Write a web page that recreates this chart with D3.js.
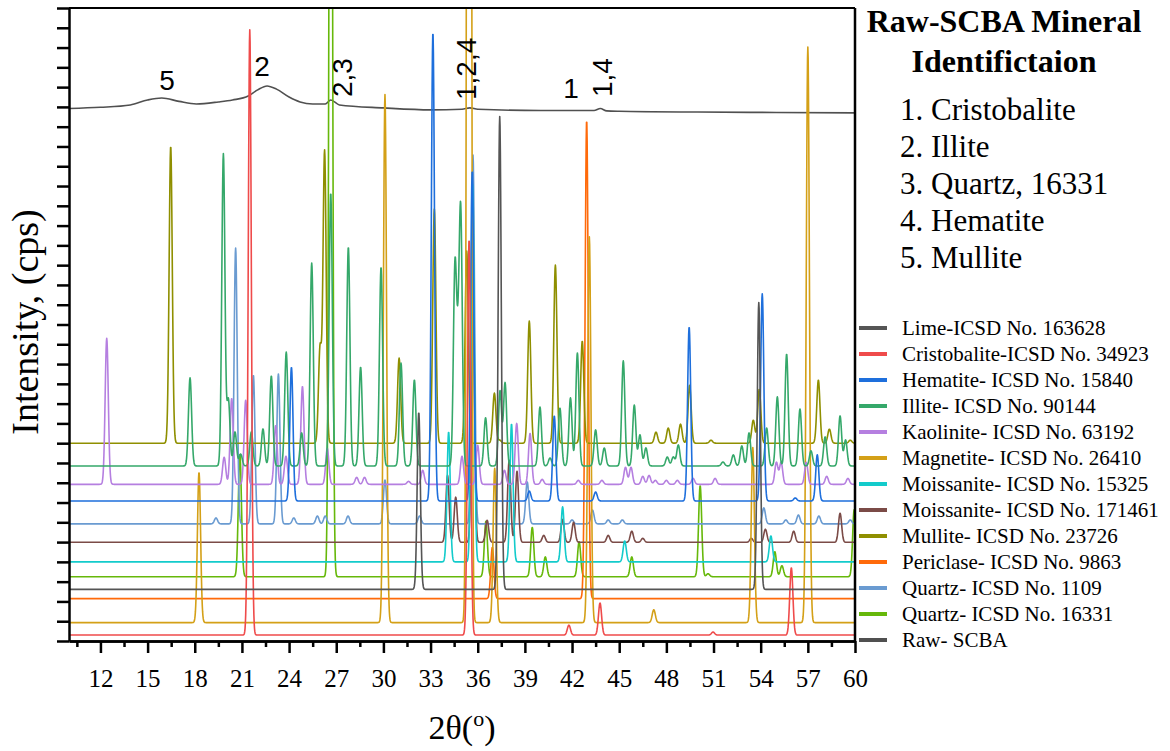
<!DOCTYPE html>
<html>
<head>
<meta charset="utf-8">
<script src="https://cdn.jsdelivr.net/npm/d3@7/dist/d3.min.js"></script>
<style>
  body { margin: 0; background: #fff; }
  text { font-family: "Liberation Serif", "Times New Roman", serif; }
  .axis path, .axis line { stroke: #000; stroke-width: 2.5; }
  .axis text { font-size: 25px; fill: #000; }
  .pattern { fill: none; stroke-width: 1.6; stroke-linejoin: round; }
  .note { font-family: "Liberation Sans", Arial, sans-serif; font-size: 28px; }
</style>
</head>
<body>
<div id="chart"></div>
<script>
// ---- data (2theta in degrees, intensity in tick units) ----
var legendNames = ['Lime-ICSD No. 163628', 'Cristobalite-ICSD No. 34923', 'Hematite- ICSD No. 15840',
  'Illite- ICSD No. 90144', 'Kaolinite- ICSD No. 63192', 'Magnetite- ICSD No. 26410',
  'Moissanite- ICSD No. 15325', 'Moissanite- ICSD No. 171461', 'Mullite- ICSD No. 23726',
  'Periclase- ICSD No. 9863', 'Quartz- ICSD No. 1109', 'Quartz- ICSD No. 16331', 'Raw- SCBA'];

// vertical offset of each reference pattern (same order as legend, raw excluded)
var offsets = [2.61, 0.30, 7.08, 8.85, 7.92, 0.93, 4.0, 4.99, 10.0, 2.14, 5.92, 3.25];

var limePeaks = [[32.25, 8.95], [37.4, 23.9], [53.88, 14.5]];
var cristobalitePeaks = [[21.5, 30.6], [35.45, 20], [41.8, 0.5], [43.78, 1.62], [50.97, 0.15], [55.95, 3.4]];
var hematitePeaks = [[24.15, 6.77], [33.15, 23.7], [35.65, 16.7], [39.28, 0.5], [40.87, 4.3], [43.5, 0.45],
  [49.45, 8.8], [54.1, 10.47], [56.2, 0.15], [57.6, 2.33]];
var illitePeaks = [[17.7, 4.45], [19.82, 15.77], [20.14, 3.34], [20.56, 1.72], [20.92, 0.6], [21.6, 1.72],
  [22.34, 1.87], [22.87, 4.55], [23.82, 5.76], [24.8, 1.67], [25.44, 10.26], [26.65, 13.8], [27.77, 11.07],
  [28.55, 5.0], [29.85, 10.06], [31.12, 5.2], [31.97, 4.35], [34.55, 9.76], [34.74, 4.2], [34.92, 12.44],
  [36.5, 2.43], [37.42, 3.79], [37.74, 4.2], [39.96, 2.98], [40.6, 0.4], [41.23, 2.93], [41.9, 3.44],
  [42.34, 5.71], [43.5, 1.82], [44.05, 0.91], [45.26, 5.31], [45.96, 3.08], [46.32, 1.57], [46.7, 0.91],
  [48.06, 0.45], [48.44, 0.45], [48.76, 1.06], [51.6, 0.2], [52.26, 0.56], [52.8, 1.01], [53.26, 1.67],
  [54.38, 1.92], [55.06, 3.49], [55.65, 5.66], [56.5, 2.88], [57.2, 0.76], [58.1, 1.47], [59.05, 2.53], [59.4, 1.31]];
var kaolinitePeaks = [[12.4, 7.38], [19.87, 1.37], [20.35, 4.35], [21.24, 4.25], [23.15, 2.98], [23.8, 1.42],
  [24.85, 4.95], [26.43, 1.82], [28.3, 0.35], [28.8, 0.35], [31.6, 0.15], [32.5, 0.71], [35.0, 1.42],
  [36.0, 1.97], [37.7, 0.71], [38.48, 3.08], [39.33, 2.58], [40.1, 0.25], [42.4, 0.2], [43.9, 0.2],
  [45.4, 0.86], [45.75, 0.86], [46.5, 0.4], [46.9, 0.45], [47.3, 0.2], [48.0, 0.2], [48.7, 0.2], [49.7, 0.3],
  [51.1, 0.3], [55.0, 1.11], [55.3, 1.11], [56.9, 1.11], [58.2, 0.4], [59.55, 0.3]];
var magnetitePeaks = [[18.27, 7.6], [30.1, 26.7], [35.45, 150], [37.08, 7.8], [43.1, 19.5], [47.2, 0.65],
  [53.5, 8.85], [57.0, 29.1]];
var moissanite15325Peaks = [[34.15, 6.57], [35.68, 19.06], [38.15, 6.98], [41.4, 2.78], [45.35, 1.06], [54.65, 1.31]];
var moissanite171461Peaks = [[34.08, 3.39], [34.6, 2.28], [35.7, 11.6], [36.6, 1.11], [38.0, 4.15], [38.5, 3.59],
  [40.2, 0.35], [41.4, 1.16], [42.1, 1.01], [44.3, 0.35], [45.8, 0.56], [46.5, 0.2], [53.4, 0.2], [54.3, 0.66],
  [56.1, 0.56], [59.05, 1.47]];
var mullitePeaks = [[16.47, 15.02], [25.97, 4.8], [26.26, 14.76], [31.0, 4.3], [33.24, 11.83], [35.3, 9.71],
  [37.06, 2.53], [37.4, 0.15], [39.28, 6.17], [40.94, 9.0], [42.65, 5.16], [47.34, 0.56], [48.12, 0.76],
  [48.9, 0.96], [49.48, 2.93], [50.84, 0.15], [53.53, 1.16], [53.91, 2.73], [57.67, 3.19], [58.37, 0.71], [59.7, 0.15]];
var periclasePeaks = [[36.93, 2.6], [42.93, 24.2]];
var quartz1109Peaks = [[19.35, 0.3], [20.6, 13.95], [21.73, 7.53], [23.32, 7.58], [24.3, 0.3], [25.8, 0.4],
  [26.3, 0.4], [27.75, 0.4], [30.1, 2.22], [32.3, 0.4], [35.7, 18.65], [39.15, 2.12], [42.0, 0.2], [43.3, 0.7],
  [44.3, 0.2], [45.2, 0.2], [54.2, 0.81], [55.6, 0.2], [56.4, 0.45], [57.7, 0.4], [59.7, 0.2]];
var quartz16331Peaks = [[20.87, 6.2], [26.65, 60], [36.52, 2.8], [39.47, 2.5], [40.3, 1.0], [42.45, 1.77],
  [45.8, 1.0], [50.15, 4.6], [50.65, 0.15], [54.9, 1.26], [55.35, 0.56], [59.95, 3.4]];

var rawScba = [[10, 26.92], [12, 26.98], [13.9, 27.1], [15, 27.35], [15.9, 27.45], [17, 27.28], [18.1, 27.15],
  [19.5, 27.25], [20.4, 27.35], [21.4, 27.55], [22, 27.86], [22.6, 28.06], [23.2, 27.9], [24, 27.5],
  [24.7, 27.25], [25.5, 27.15], [26.3, 27.15], [26.65, 27.35], [27.2, 27.1], [30, 26.95], [33, 26.85],
  [35, 26.88], [35.5, 26.95], [36, 26.88], [40, 26.82], [43.4, 26.82], [43.8, 26.92], [44.2, 26.8],
  [45, 26.78], [50, 26.74], [55, 26.72], [60, 26.7]];

var xMajorTicks = [12, 15, 18, 21, 24, 27, 30, 33, 36, 39, 42, 45, 48, 51, 54, 57, 60];
var xMinorTicks = [10.5, 13.5, 16.5, 19.5, 22.5, 25.5, 28.5, 31.5, 34.5, 37.5, 40.5, 43.5, 46.5, 49.5, 52.5, 55.5, 58.5];

var peakLabels = [
  {text: '5', x: 16.23, y: 27.86, rotate: false},
  {text: '2', x: 22.28, y: 28.56, rotate: false},
  {text: '2,3', x: 28.0, y: 27.5, rotate: true},
  {text: '1,2,4', x: 35.89, y: 27.35, rotate: true},
  {text: '1', x: 41.93, y: 27.45, rotate: false},
  {text: '1,4', x: 44.54, y: 27.5, rotate: true}
];
var mineralList = ['1. Cristobalite', '2. Illite', '3. Quartz, 16331', '4. Hematite', '5. Mullite'];

// ---- styles ----
var colors = ['#555555', '#ef4b4b', '#1e6fdc', '#35a86a', '#b57fe0', '#d4a017', '#13cbcb', '#7b4b47',
  '#8f8f00', '#ff6a0a', '#6a9bd1', '#66b80a', '#505050'];
var peakSigma = 0.1;
var serif = '"Liberation Serif", "Times New Roman", serif';

var allPeaks = [limePeaks, cristobalitePeaks, hematitePeaks, illitePeaks, kaolinitePeaks, magnetitePeaks,
  moissanite15325Peaks, moissanite171461Peaks, mullitePeaks, periclasePeaks, quartz1109Peaks, quartz16331Peaks];

var width = 1170, height = 751;
var margin = {left: 69, right: 315, top: 8, bottom: 110};

var svg = d3.select('#chart').append('svg')
  .attr('width', width).attr('height', height);

var x = d3.scaleLinear().domain([10, 60]).range([margin.left, width - margin.right]);
var y = d3.scaleLinear().domain([0, 32]).range([height - margin.bottom, margin.top]);

svg.append('defs').append('clipPath').attr('id', 'plotclip')
  .append('rect')
  .attr('x', x(10)).attr('y', y(32))
  .attr('width', x(60) - x(10)).attr('height', y(0) - y(32));

// each reference pattern = its peak list broadened onto a fine 2theta grid
var grid = d3.range(10, 60.0001, 0.02);
function profile(peaks, base) {
  return grid.map(function(t) {
    var s = base;
    peaks.forEach(function(p) {
      var d = (t - p[0]) / peakSigma;
      if (Math.abs(d) < 8) s += p[1] * Math.exp(-0.5 * d * d);
    });
    return [t, s];
  });
}

var line = d3.line()
  .x(function(d) { return x(d[0]); })
  .y(function(d) { return y(d[1]); });

var plot = svg.append('g').attr('clip-path', 'url(#plotclip)');

// raw pattern first, then references in reverse legend order
plot.append('path')
  .datum(rawScba)
  .attr('class', 'pattern')
  .attr('stroke', colors[12])
  .attr('stroke-width', 2.2)
  .attr('d', line.curve(d3.curveMonotoneX));

line.curve(d3.curveLinear);
for (var i = allPeaks.length - 1; i >= 0; i--) {
  plot.append('path')
    .datum(profile(allPeaks[i], offsets[i]))
    .attr('class', 'pattern')
    .attr('stroke', colors[i])
    .attr('d', line);
}

// frame
svg.append('line').attr('x1', x(10)).attr('x2', x(60)).attr('y1', y(32)).attr('y2', y(32))
  .attr('stroke', '#000').attr('stroke-width', 2);
svg.append('line').attr('x1', x(60)).attr('x2', x(60)).attr('y1', y(32)).attr('y2', y(0))
  .attr('stroke', '#000').attr('stroke-width', 2.5);

// axes
svg.append('g').attr('class', 'axis')
  .attr('transform', 'translate(0,' + y(0) + ')')
  .call(d3.axisBottom(x).tickValues(xMinorTicks).tickSize(6).tickFormat('').tickSizeOuter(0));
var xAxis = svg.append('g').attr('class', 'axis')
  .attr('transform', 'translate(0,' + y(0) + ')')
  .call(d3.axisBottom(x).tickValues(xMajorTicks).tickSize(12).tickPadding(16).tickSizeOuter(0));
xAxis.attr('font-family', serif);
xAxis.selectAll('text').attr('dy', '0.71em');

svg.append('g').attr('class', 'axis')
  .attr('transform', 'translate(' + x(10) + ',0)')
  .call(d3.axisLeft(y).tickValues(d3.range(0, 33)).tickSize(12).tickFormat('').tickSizeOuter(0));

// axis titles
var xTitle = svg.append('text')
  .attr('x', 462).attr('y', 739)
  .attr('text-anchor', 'middle')
  .style('font-size', '34px');
xTitle.append('tspan').text('2\u03B8(');
xTitle.append('tspan').attr('dy', -13).style('font-size', '22px').text('o');
xTitle.append('tspan').attr('dy', 13).text(')');

svg.append('text')
  .attr('transform', 'translate(38,' + 322 + ') rotate(-90)')
  .attr('text-anchor', 'middle')
  .style('font-size', '38px')
  .text('Intensity, (cps)');

// peak identification numbers above the raw pattern
peakLabels.forEach(function(p) {
  var t = svg.append('text').attr('class', 'note').text(p.text);
  if (p.rotate) {
    t.attr('transform', 'translate(' + x(p.x) + ',' + y(p.y) + ') rotate(-90)');
  } else {
    t.attr('x', x(p.x)).attr('y', y(p.y)).attr('text-anchor', 'middle');
  }
});

// mineral identification box
svg.append('text').attr('x', 1004).attr('y', 32).attr('text-anchor', 'middle')
  .style('font-size', '32px').style('font-weight', 'bold').text('Raw-SCBA Mineral');
svg.append('text').attr('x', 1004).attr('y', 72).attr('text-anchor', 'middle')
  .style('font-size', '32px').style('font-weight', 'bold').text('Identifictaion');
svg.selectAll('.mineral')
  .data(mineralList)
  .enter().append('text')
  .attr('class', 'mineral')
  .attr('x', 900)
  .attr('y', function(d, i) { return 120 + i * 37; })
  .style('font-size', '31px')
  .text(function(d) { return d; });

// legend
var legend = svg.selectAll('.legend')
  .data(legendNames)
  .enter().append('g')
  .attr('class', 'legend')
  .attr('transform', function(d, i) { return 'translate(859,' + (328 + i * 26) + ')'; });
legend.append('line')
  .attr('x1', 0).attr('x2', 28)
  .attr('stroke', function(d, i) { return colors[i]; })
  .attr('stroke-width', 4);
legend.append('text')
  .attr('x', 43).attr('y', 7)
  .style('font-size', '21px')
  .text(function(d) { return d; });
</script>
</body>
</html>
